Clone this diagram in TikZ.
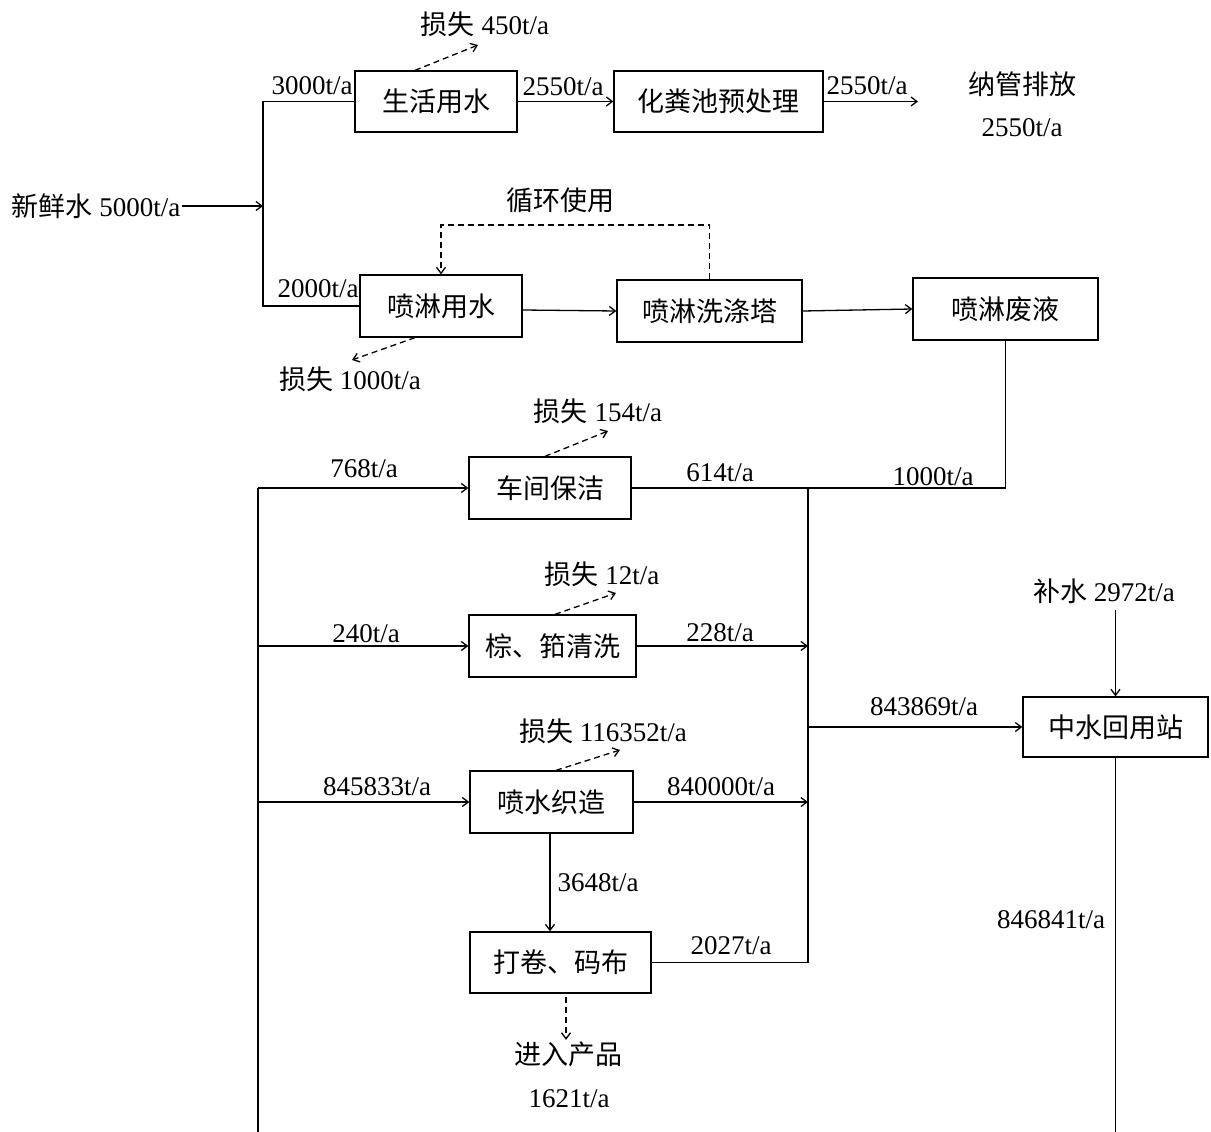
\documentclass[tikz,border=0pt]{standalone}
\usepackage{fontspec}
\setmainfont{Liberation Serif}
\newfontfamily\cjk{Noto Sans CJK SC}
\usetikzlibrary{arrows.meta}
\begin{document}
\begin{tikzpicture}[x=1pt,y=-1pt,
  line width=1.3pt,
  >={Straight Barb[length=6pt,width=9pt]},
  box/.style={draw, minimum height=61pt, inner sep=0pt, font=\cjk\fontsize{27}{30}\selectfont},
  lbl/.style={inner sep=1pt, font=\fontsize{27}{30}\selectfont},
  flow/.style={->},
  loss/.style={->, dashed, dash pattern=on 6pt off 4pt}]
\useasboundingbox (0,0) rectangle (1211,1132);

% boxes
\node[box, minimum width=162pt] (sh) at (436,101.5) {生活用水};
\node[box, minimum width=209pt] (hf) at (718.5,101.5) {化粪池预处理};
\node[box, minimum width=162pt, minimum height=62pt] (pl) at (441,306) {喷淋用水};
\node[box, minimum width=185pt, minimum height=62pt] (xd) at (709.5,311) {喷淋洗涤塔};
\node[box, minimum width=185pt, minimum height=62pt] (fy) at (1005.5,309) {喷淋废液};
\node[box, minimum width=162pt, minimum height=62pt] (cj) at (550,488) {车间保洁};
\node[box, minimum width=167pt, minimum height=62pt] (zk) at (552.5,646) {棕、筘清洗};
\node[box, minimum width=163pt, minimum height=62pt] (ps) at (551.5,802) {喷水织造};
\node[box, minimum width=181pt] (dj) at (560.5,962.5) {打卷、码布};
\node[box, minimum width=185pt, minimum height=60pt] (zs) at (1115.5,727) {中水回用站};

% text-only nodes
\node[lbl] (src) at (96,206) {{\cjk 新鲜水} 5000t/a};
\node[lbl] (nap) at (1022,84) {\cjk 纳管排放};
\node[lbl] (napv) at (1022,128) {2550t/a};
\node[lbl] (xh) at (560,200) {\cjk 循环使用};
\node[lbl] (bs) at (1104,591) {{\cjk 补水} 2972t/a};
\node[lbl] (jp) at (568,1054) {\cjk 进入产品};
\node[lbl] (jpv) at (569,1099) {1621t/a};
\node[lbl] (ls1) at (485,24) {{\cjk 损失} 450t/a};
\node[lbl] (ls2) at (350,379) {{\cjk 损失} 1000t/a};
\node[lbl] (ls3) at (598,411) {{\cjk 损失} 154t/a};
\node[lbl] (ls4) at (602,574) {{\cjk 损失} 12t/a};
\node[lbl] (ls5) at (603,731) {{\cjk 损失} 116352t/a};

% flow labels
\node[lbl] (t3000) at (312,86) {3000t/a};
\node[lbl] (t2550a) at (563,87) {2550t/a};
\node[lbl] (t2550b) at (867,86) {2550t/a};
\node[lbl] (t2000) at (318,289) {2000t/a};
\node[lbl] (t768) at (364,469) {768t/a};
\node[lbl] (t614) at (720,473) {614t/a};
\node[lbl] (t1000) at (933,477) {1000t/a};
\node[lbl] (t240) at (366,634) {240t/a};
\node[lbl] (t228) at (720,633) {228t/a};
\node[lbl] (t843) at (924,707) {843869t/a};
\node[lbl] (t845) at (377,787) {845833t/a};
\node[lbl] (t840) at (721,787) {840000t/a};
\node[lbl] (t3648) at (598,883) {3648t/a};
\node[lbl] (t846) at (1051,920) {846841t/a};
\node[lbl] (t2027) at (731,946) {2027t/a};

% coordinates
\coordinate (ltop) at (263,101.5);
\coordinate (lbot) at (263,306);
\coordinate (out1) at (918,101.5);
\coordinate (lp) at (709.5,225);
\coordinate (c1) at (808,488);
\coordinate (c2) at (808,646);
\coordinate (cm) at (808,727);
\coordinate (c3) at (808,802);
\coordinate (c4) at (808,962.5);
\coordinate (b1) at (258,1132);
\coordinate (l768) at (258,488);
\coordinate (l240) at (258,646);
\coordinate (l845) at (258,802);
\coordinate (r1) at (1115.5,1132);
\coordinate (bstop) at (1115.5,610);
\coordinate (e1) at (478,45);
\coordinate (e2) at (352,360);
\coordinate (e3) at (608,431);
\coordinate (e4) at (616,593);
\coordinate (e5) at (620,750);

% top section
\draw[flow] (src.east) -- (src.east -| ltop);
\draw (sh.west) -- (ltop) -- (lbot) -- (pl.west);
\draw[flow] (sh.east) -- (hf.west);
\draw[flow] (hf.east) -- (out1);
\draw[loss] ([xshift=-21pt]sh.north) -- (e1);
\draw[flow] ([yshift=-4pt]pl.east) -- (xd.west);
\draw[flow] (xd.east) -- (fy.west);
\draw[loss] (xd.north) -- (lp) -| (pl.north);
\draw[loss] ([xshift=-26pt]pl.south) -- (e2);

% lower section
\draw (fy.south) |- (c1);
\draw (cj.east) -- (c1) -- (c4);
\draw (dj.east) -- (c4);
\draw[flow] (zk.east) -- (c2);
\draw[flow] (ps.east) -- (c3);
\draw[flow] (cm) -- (zs.west);
\draw[flow] (bstop) -- (zs.north);
\draw (zs.south) -- (r1);
\draw (b1) -- (l768);
\draw[flow] (l768) -- (cj.west);
\draw[flow] (l240) -- (zk.west);
\draw[flow] (l845) -- (ps.west);
\draw[flow] ([xshift=-1.5pt]ps.south) -- ([xshift=-10.5pt]dj.north);
\draw[loss] ([xshift=-5pt]cj.north) -- (e3);
\draw[loss] ([xshift=2.5pt]zk.north) -- (e4);
\draw[loss] ([xshift=4.5pt]ps.north) -- (e5);
\draw[loss] ([xshift=5.5pt,yshift=-3pt]dj.south) -- ([xshift=5.5pt]dj.south |- jp.north);
\end{tikzpicture}
\end{document}
